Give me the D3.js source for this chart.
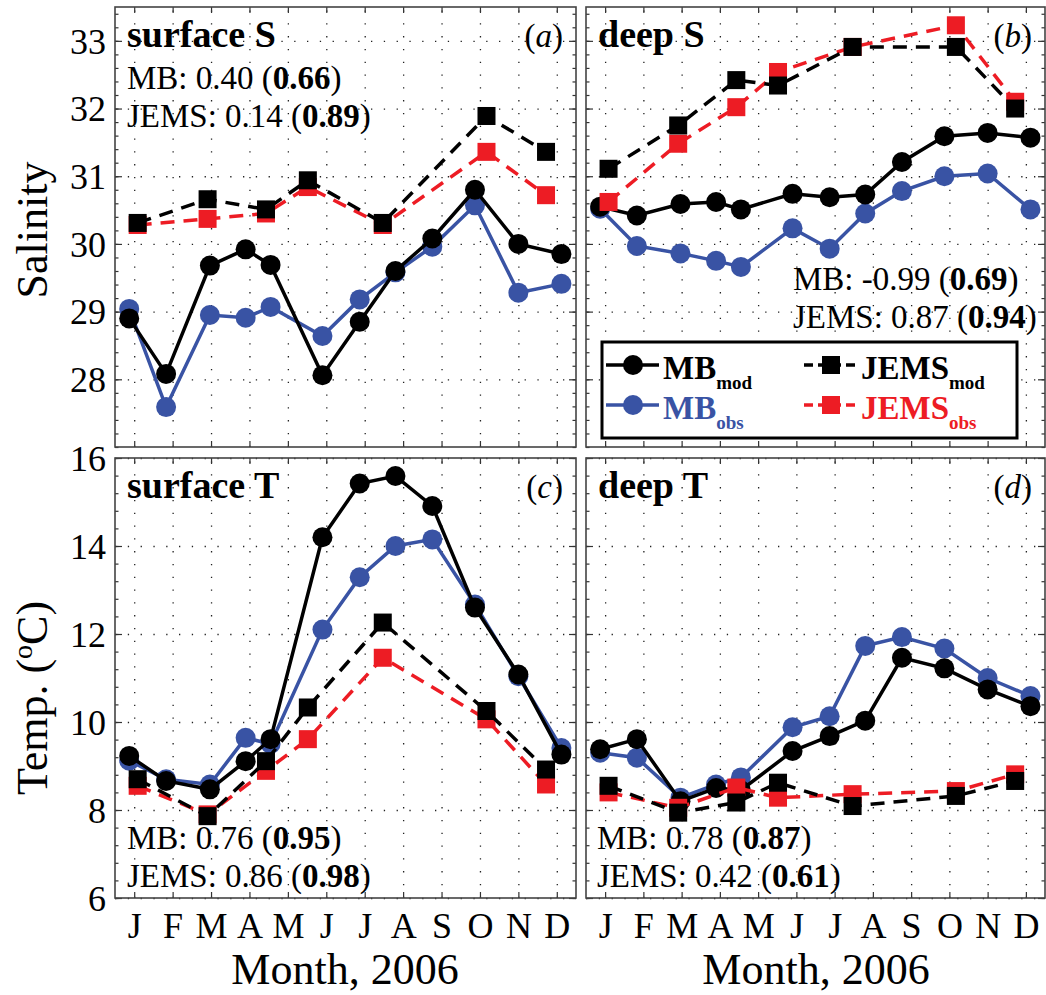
<!DOCTYPE html>
<html>
<head>
<meta charset="utf-8">
<script src="https://cdn.jsdelivr.net/npm/d3@7"></script>
<style>
  body { margin: 0; background: #fff; }
  svg { display: block; }
  text { font-family: "Liberation Serif", "Times New Roman", serif; fill: #000; }
</style>
</head>
<body>
<svg id="chart" width="1046" height="995"></svg>
<script>
// month labels and the sampling times (fractional month) of each data set
const months = ['J', 'F', 'M', 'A', 'M', 'J', 'J', 'A', 'S', 'O', 'N', 'D'];
const mbTime = [0.87, 1.83, 2.97, 3.9, 4.55, 5.9, 6.87, 7.8, 8.76, 9.87, 11.0, 12.12];
const jemsTime = [1.09, 2.91, 4.43, 5.52, 7.47, 10.17, 11.72];

// (a) surface salinity
const surfSMbMod = [28.90, 28.08, 29.68, 29.92, 29.69, 28.06, 28.85, 29.60, 30.08, 30.80, 30.00, 29.85];
const surfSMbObs = [29.04, 27.59, 28.95, 28.91, 29.07, 28.64, 29.18, 29.58, 29.96, 30.57, 29.28, 29.41];
const surfSJemsMod = [30.31, 30.66, 30.51, 30.94, 30.31, 31.89, 31.36];
const surfSJemsObs = [30.28, 30.37, 30.45, 30.84, 30.28, 31.36, 30.72];

// (b) deep salinity
const deepSMbMod = [30.55, 30.42, 30.59, 30.62, 30.51, 30.74, 30.69, 30.73, 31.21, 31.59, 31.64, 31.57];
const deepSMbObs = [30.52, 29.97, 29.86, 29.75, 29.66, 30.23, 29.93, 30.45, 30.78, 31.00, 31.04, 30.51];
const deepSJemsMod = [31.11, 31.75, 32.42, 32.34, 32.91, 32.91, 32.00];
const deepSJemsObs = [30.62, 31.48, 32.02, 32.54, 32.91, 33.23, 32.10];

// (c) surface temperature
const surfTMbMod = [9.23, 8.66, 8.47, 9.11, 9.61, 14.20, 15.42, 15.59, 14.91, 12.60, 11.08, 9.26];
const surfTMbObs = [9.12, 8.70, 8.58, 9.64, 9.50, 12.10, 13.29, 14.00, 14.15, 12.67, 11.04, 9.41];
const surfTJemsMod = [8.70, 7.86, 9.11, 10.33, 12.26, 10.25, 8.92];
const surfTJemsObs = [8.55, 7.90, 8.89, 9.61, 11.46, 10.06, 8.58];

// (d) deep temperature
const deepTMbMod = [9.38, 9.61, 8.20, 8.50, 8.45, 9.34, 9.68, 10.03, 11.46, 11.22, 10.74, 10.36];
const deepTMbObs = [9.30, 9.19, 8.28, 8.58, 8.74, 9.88, 10.13, 11.73, 11.93, 11.67, 11.00, 10.59];
const deepTJemsMod = [8.55, 7.94, 8.17, 8.62, 8.09, 8.32, 8.66];
const deepTJemsObs = [8.40, 8.05, 8.51, 8.28, 8.36, 8.43, 8.81];

// y-axis ticks
const salTicks = [28, 29, 30, 31, 32, 33];
const tempTicks = [6, 8, 10, 12, 14, 16];

const blue = '#3953a4', red = '#ed1c24';

const svg = d3.select('#chart');

const panels = [
  { left: 115, top: 7, width: 461, height: 440, yDomain: [27, 33.5], ticks: salTicks, minor: 0.2,
    title: 'surface S', tag: 'a', yLabels: true, xLabels: false,
    mbMod: surfSMbMod, mbObs: surfSMbObs, jemsMod: surfSJemsMod, jemsObs: surfSJemsObs,
    stats: [['MB: 0.40 (', '0.66', ')'], ['JEMS: 0.14 (', '0.89', ')']], statX: 12, statY: [82, 120] },
  { left: 586, top: 7, width: 459, height: 440, yDomain: [27, 33.5], ticks: salTicks, minor: 0.2,
    title: 'deep S', tag: 'b', yLabels: false, xLabels: false, legend: true,
    mbMod: deepSMbMod, mbObs: deepSMbObs, jemsMod: deepSJemsMod, jemsObs: deepSJemsObs,
    stats: [['MB: -0.99 (', '0.69', ')'], ['JEMS: 0.87 (', '0.94', ')']], statX: 207, statY: [283, 321] },
  { left: 115, top: 458, width: 461, height: 440, yDomain: [6, 16], ticks: tempTicks, minor: 0.4,
    title: 'surface T', tag: 'c', yLabels: true, xLabels: true,
    mbMod: surfTMbMod, mbObs: surfTMbObs, jemsMod: surfTJemsMod, jemsObs: surfTJemsObs,
    stats: [['MB: 0.76 (', '0.95', ')'], ['JEMS: 0.86 (', '0.98', ')']], statX: 12, statY: [391, 429] },
  { left: 586, top: 458, width: 459, height: 440, yDomain: [6, 16], ticks: tempTicks, minor: 0.4,
    title: 'deep T', tag: 'd', yLabels: false, xLabels: true,
    mbMod: deepTMbMod, mbObs: deepTMbObs, jemsMod: deepTJemsMod, jemsObs: deepTJemsObs,
    stats: [['MB: 0.78 (', '0.87', ')'], ['JEMS: 0.42 (', '0.61', ')']], statX: 11, statY: [391, 429] }
];

function styleTicks(sel) {
  sel.select('.domain').remove();
  sel.selectAll('.tick line').attr('stroke', '#333').attr('stroke-width', 1.2);
}

function drawPanel(p) {
  const g = svg.append('g').attr('transform', `translate(${p.left},${p.top})`);
  const x = d3.scaleLinear().domain([0.5, 12.5]).range([0, p.width]);
  const y = d3.scaleLinear().domain(p.yDomain).range([p.height, 0]);
  const monthVals = d3.range(1, 13);
  const minorVals = d3.range(p.yDomain[0], p.yDomain[1] + 1e-6, p.minor);

  g.append('rect').attr('width', p.width).attr('height', p.height).attr('fill', '#fff');

  // dotted grid
  g.append('g').attr('transform', `translate(0,${p.height})`)
    .call(d3.axisBottom(x).tickValues(monthVals).tickSize(-p.height).tickFormat(''))
    .call(s => s.select('.domain').remove())
    .selectAll('.tick line').attr('stroke', '#222').attr('stroke-width', 1.3).attr('stroke-dasharray', '1.3,11.5');
  g.append('g')
    .call(d3.axisLeft(y).tickValues(p.ticks).tickSize(-p.width).tickFormat(''))
    .call(s => s.select('.domain').remove())
    .selectAll('.tick line').attr('stroke', '#222').attr('stroke-width', 1.3).attr('stroke-dasharray', '1.3,11.5');

  // inward ticks on all sides
  g.append('g').call(d3.axisLeft(y).tickValues(minorVals).tickSize(-3.5).tickFormat('')).call(styleTicks);
  g.append('g').attr('transform', `translate(${p.width},0)`)
    .call(d3.axisRight(y).tickValues(minorVals).tickSize(-3.5).tickFormat('')).call(styleTicks);
  const yl = g.append('g')
    .call(d3.axisLeft(y).tickValues(p.ticks).tickSize(-7).tickPadding(9)
      .tickFormat(p.yLabels ? d3.format('d') : ''))
    .call(styleTicks);
  yl.selectAll('text').attr('font-size', 36).attr('font-family', '"Liberation Serif", serif').attr('dy', '0.34em');
  g.append('g').attr('transform', `translate(${p.width},0)`)
    .call(d3.axisRight(y).tickValues(p.ticks).tickSize(-7).tickFormat('')).call(styleTicks);
  g.append('g')
    .call(d3.axisTop(x).tickValues(monthVals).tickSize(-6).tickFormat('')).call(styleTicks);
  const xb = g.append('g').attr('transform', `translate(0,${p.height})`)
    .call(d3.axisBottom(x).tickValues(monthVals).tickSize(-6).tickPadding(14)
      .tickFormat(p.xLabels ? (d => months[d - 1]) : ''))
    .call(styleTicks);
  xb.selectAll('text').attr('font-size', 36).attr('font-family', '"Liberation Serif", serif').attr('dy', '0.71em');

  // series
  const line = d3.line().x(d => x(d.t)).y(d => y(d.v));
  const mbObs = p.mbObs.map((v, i) => ({ t: mbTime[i], v }));
  const mbMod = p.mbMod.map((v, i) => ({ t: mbTime[i], v }));
  const jemsObs = p.jemsObs.map((v, i) => ({ t: jemsTime[i], v }));
  const jemsMod = p.jemsMod.map((v, i) => ({ t: jemsTime[i], v }));

  [[mbObs, blue], [mbMod, '#000']].forEach(([data, col]) => {
    g.append('path').datum(data).attr('d', line)
      .attr('fill', 'none').attr('stroke', col).attr('stroke-width', 3.5);
    g.append('g').selectAll('circle').data(data).join('circle')
      .attr('cx', d => x(d.t)).attr('cy', d => y(d.v)).attr('r', 10).attr('fill', col);
  });
  [[jemsObs, red], [jemsMod, '#000']].forEach(([data, col]) => {
    g.append('path').datum(data).attr('d', line)
      .attr('fill', 'none').attr('stroke', col).attr('stroke-width', 3.5).attr('stroke-dasharray', '14,9');
    g.append('g').selectAll('rect').data(data).join('rect')
      .attr('x', d => x(d.t) - 9).attr('y', d => y(d.v) - 9).attr('width', 18).attr('height', 18).attr('fill', col);
  });

  // frame
  g.append('rect').attr('width', p.width).attr('height', p.height)
    .attr('fill', 'none').attr('stroke', '#444').attr('stroke-width', 1.6);

  // labels
  g.append('text').attr('x', 12).attr('y', 40).attr('font-size', 38).attr('font-weight', 'bold').text(p.title);
  const tag = g.append('text').attr('x', p.width - 13).attr('y', 40).attr('font-size', 33).attr('text-anchor', 'end');
  tag.append('tspan').text('(');
  tag.append('tspan').attr('font-style', 'italic').text(p.tag);
  tag.append('tspan').text(')');

  p.stats.forEach((s, i) => {
    const t = g.append('text').attr('x', p.statX).attr('y', p.statY[i]).attr('font-size', 33);
    t.append('tspan').text(s[0]);
    t.append('tspan').attr('font-weight', 'bold').text(s[1]);
    t.append('tspan').text(s[2]);
  });

  if (p.legend) drawLegend(g);
}

function drawLegend(g) {
  const lg = g.append('g').attr('transform', 'translate(16,335)');
  lg.append('rect').attr('width', 415).attr('height', 96)
    .attr('fill', '#fff').attr('stroke', '#000').attr('stroke-width', 3);
  const items = [
    { name: 'MB', sub: 'mod', col: '#000', txt: '#000', dash: null, sq: false, x: 4, y: 23 },
    { name: 'MB', sub: 'obs', col: blue, txt: blue, dash: null, sq: false, x: 4, y: 63 },
    { name: 'JEMS', sub: 'mod', col: '#000', txt: '#000', dash: '9,5', sq: true, x: 202, y: 23 },
    { name: 'JEMS', sub: 'obs', col: red, txt: red, dash: '9,5', sq: true, x: 202, y: 63 }
  ];
  items.forEach(it => {
    const e = lg.append('g').attr('transform', `translate(${it.x},${it.y})`);
    e.append('line').attr('x1', 0).attr('x2', 53).attr('y1', 0).attr('y2', 0)
      .attr('stroke', it.col).attr('stroke-width', 3.5).attr('stroke-dasharray', it.dash);
    if (it.sq) e.append('rect').attr('x', 18).attr('y', -9).attr('width', 18).attr('height', 18).attr('fill', it.col);
    else e.append('circle').attr('cx', 27).attr('r', 10).attr('fill', it.col);
    const t = e.append('text').attr('x', 57).attr('y', 14).attr('font-size', 33).attr('font-weight', 'bold')
      .style('fill', it.txt);
    t.append('tspan').text(it.name);
    t.append('tspan').attr('font-size', 19).attr('dy', 10).text(it.sub);
  });
}

panels.forEach(drawPanel);

// axis titles
svg.append('text').attr('transform', 'translate(32,230) rotate(-90)').attr('text-anchor', 'middle')
  .attr('dy', '0.35em').attr('font-size', 44).text('Salinity');
const tl = svg.append('text').attr('transform', 'translate(32,698) rotate(-90)').attr('text-anchor', 'middle')
  .attr('dy', '0.35em').attr('font-size', 44);
tl.append('tspan').text('Temp. (');
tl.append('tspan').attr('font-size', 28).attr('dy', -15).text('o');
tl.append('tspan').attr('dy', 15).text('C)');

[345, 816].forEach(cx => {
  svg.append('text').attr('x', cx).attr('y', 984).attr('text-anchor', 'middle')
    .attr('font-size', 44).text('Month, 2006');
});
</script>
</body>
</html>
